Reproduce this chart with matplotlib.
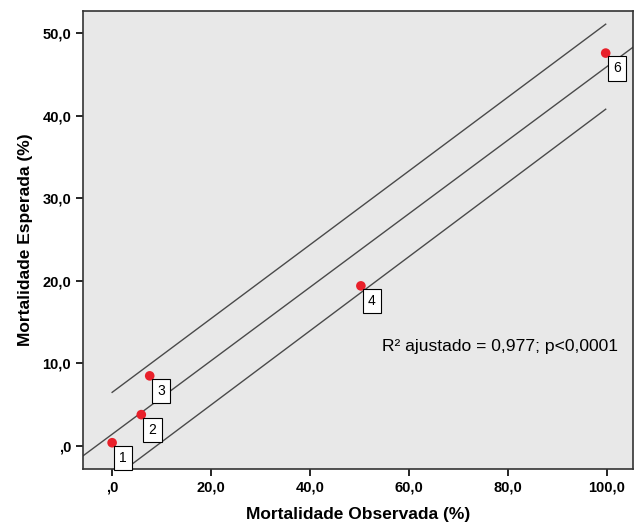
import matplotlib
matplotlib.use('Agg')
import matplotlib.pyplot as plt

# dados
obs = [0.0, 5.9, 7.6, 50.3, 99.8]
esp = [0.4, 3.8, 8.5, 19.4, 47.6]
rotulos = ['1', '2', '3', '4', '6']

# extremos das retas (ajuste e limites)
fit_x = [-5.9, 105.3]
fit_y = [-1.2, 48.3]
sup_x = [0.0, 99.8]
sup_y = [6.5, 51.1]
inf_x = [0.0, 99.8]
inf_y = [-4.0, 40.8]

xticks = [0, 20, 40, 60, 80, 100]
xtick_labels = [',0', '20,0', '40,0', '60,0', '80,0', '100,0']
yticks = [0, 10, 20, 30, 40, 50]
ytick_labels = [',0', '10,0', '20,0', '30,0', '40,0', '50,0']

plt.rcParams['font.family'] = ['Liberation Sans', 'DejaVu Sans']

fig = plt.figure(figsize=(6.38, 5.23), dpi=100)
ax = fig.add_axes([0.130, 0.103, 0.862, 0.876])
ax.set_facecolor('#e8e8e8')

ax.plot(fit_x, fit_y, color='#4a4a4a', lw=1.0, zorder=2)
ax.plot(sup_x, sup_y, color='#4a4a4a', lw=1.0, zorder=2)
ax.plot(inf_x, inf_y, color='#4a4a4a', lw=1.0, zorder=2)

ax.scatter(obs, esp, s=48, color='#e8202a', edgecolors='none', zorder=3)
for x, y, t in zip(obs, esp, rotulos):
    ax.annotate(t, (x, y), xytext=(8, -11), textcoords='offset points',
                ha='center', va='center', fontsize=10,
                bbox=dict(boxstyle='square,pad=0.38', fc='white', ec='black', lw=0.8),
                zorder=4)

ax.text(54.5, 12.0, 'R² ajustado = 0,977; p<0,0001', fontsize=12.6, ha='left', va='center')

ax.set_xlim(-5.9, 105.3)
ax.set_ylim(-2.8, 52.7)
ax.set_xticks(xticks)
ax.set_xticklabels(xtick_labels, fontweight='bold', fontsize=10.5)
ax.set_yticks(yticks)
ax.set_yticklabels(ytick_labels, fontweight='bold', fontsize=10.5)
ax.tick_params(direction='out', length=5, width=1.2, color='black')

for s in ax.spines.values():
    s.set_color('#333333')
    s.set_linewidth(1.2)

ax.set_xlabel('Mortalidade Observada (%)', fontweight='bold', fontsize=12.5, labelpad=9)
ax.set_ylabel('Mortalidade Esperada (%)', fontweight='bold', fontsize=12.5, labelpad=7)

fig.savefig('out.png', dpi=100)
